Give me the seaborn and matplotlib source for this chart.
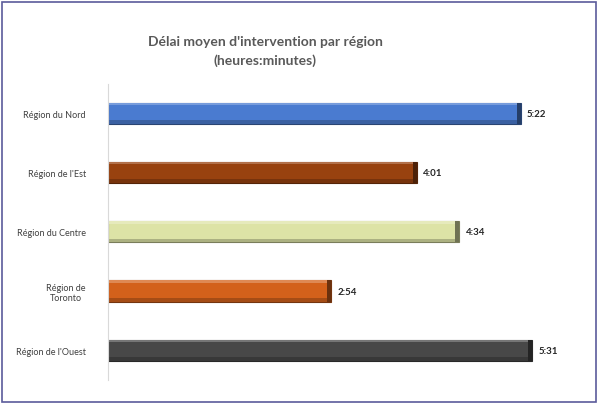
import pandas as pd
import matplotlib.pyplot as plt
import matplotlib.colors as mcolors
from matplotlib.patches import Rectangle
import seaborn as sns

# data: average intervention delay, in minutes
regions = ["Région du Nord", "Région de l'Est", "Région du Centre", "Région de\nToronto", "Région de l'Ouest"]
minutes = [322, 241, 274, 174, 331]
colors = ["#4a7bd0", "#98420f", "#dde3a6", "#d3611b", "#484848"]

df = pd.DataFrame({"region": regions, "minutes": minutes})
labels = [f"{m // 60}:{m % 60:02d}" for m in minutes]

sns.set_style("white")
plt.rcParams["font.family"] = ["Lato", "DejaVu Sans"]

fig = plt.figure(figsize=(6, 4.06), dpi=100)
ax = fig.add_axes([0.18, 0.0616, 0.769, 0.730])

sns.barplot(data=df, y="region", x="minutes", hue="region", palette=colors,
            orient="h", width=0.36, legend=False, ax=ax, saturation=1)


def mix(c, other, t):
    a = mcolors.to_rgb(c)
    b = mcolors.to_rgb(other)
    return tuple(a[i] * (1 - t) + b[i] * t for i in range(3))


# bevel look: dark edge, light strip on top, dark strip at bottom
for patch, col in zip(ax.patches, colors):
    x0, y0 = patch.get_x(), patch.get_y()
    w, h = patch.get_width(), patch.get_height()
    patch.set_edgecolor(mix(col, "black", 0.45))
    patch.set_linewidth(0.8)
    ax.add_patch(Rectangle((x0, y0), w, h * 0.12, color=mix(col, "white", 0.25), lw=0))
    ax.add_patch(Rectangle((x0, y0 + h * 0.82), w, h * 0.18, color=mix(col, "black", 0.22), lw=0))
    ax.add_patch(Rectangle((x0 + w - 3, y0), 3, h, color=mix(col, "black", 0.5), lw=0))

for i, (m, lab) in enumerate(zip(minutes, labels)):
    ax.text(m + 5, i, lab, va="center", ha="left", fontsize=7,
            fontweight="bold", color="#262626")

ax.set_xlim(0, 360)
ax.set_ylim(4.5, -0.5)
ax.set_xlabel("")
ax.set_ylabel("")
ax.set_xticks([])
for s in ["top", "right", "bottom"]:
    ax.spines[s].set_visible(False)
ax.spines["left"].set_color("#d9d9d9")
ax.spines["left"].set_linewidth(0.8)
ax.tick_params(axis="y", length=0, pad=16, labelsize=6.5, labelcolor="#404040")
for t in ax.get_yticklabels():
    t.set_multialignment("center")

fig.text(0.442, 0.872, "Délai moyen d'intervention par région\n(heures:minutes)",
         ha="center", va="center", fontsize=10, fontweight="bold",
         color="#595959", linespacing=1.6)

fig.patches.append(Rectangle((0.004, 0.008), 0.99, 0.985, transform=fig.transFigure,
                             fill=False, edgecolor="#5b5b9b", linewidth=1.2))

fig.savefig("out.png", dpi=100)
